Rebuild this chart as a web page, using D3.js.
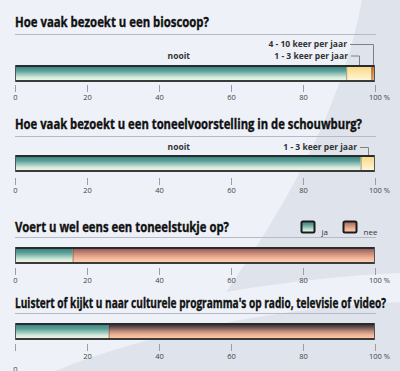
<!DOCTYPE html>
<html>
<head>
<meta charset="utf-8">
<script src="https://cdn.jsdelivr.net/npm/d3@7"></script>
<style>
    body { margin: 0; background: #eef1f8; }
    svg { display: block; }
</style>
</head>
<body>
<div id="chart"></div>
<script>
// questions, in order of the panels
const titles = [
    "Hoe vaak bezoekt u een bioscoop?",
    "Hoe vaak bezoekt u een toneelvoorstelling in de schouwburg?",
    "Voert u wel eens een toneelstukje op?",
    "Luistert of kijkt u naar culturele programma's op radio, televisie of video?"
];
const tickValues = [0, 20, 40, 60, 80, 100];

const freqCategories = ["nooit", "1 - 3 keer per jaar", "4 - 10 keer per jaar"];
const bioscoopValues = [92, 7, 1];
const schouwburgValues = [96, 4];

const yesNoCategories = ["ja", "nee"];
const toneelstukValues = [16, 84];
const programmaValues = [26, 74];

const width = 400, height = 371;
const x = d3.scaleLinear().domain([0, 100]).range([15, 375]);

const svg = d3.select("#chart").append("svg")
    .attr("width", width)
    .attr("height", height);

const defs = svg.append("defs");
function gradient(id, stops) {
    const g = defs.append("linearGradient").attr("id", id)
        .attr("x1", 0).attr("y1", 0).attr("x2", 0).attr("y2", 1);
    stops.forEach(s => g.append("stop").attr("offset", s[0]).attr("stop-color", s[1]));
}
gradient("teal", [[0, "#3a8783"], [0.3, "#5d9f9a"], [0.55, "#98c7bb"], [0.8, "#d4eadb"], [1, "#eef6e8"]]);
gradient("yellow", [[0, "#f6d88c"], [0.5, "#fce8ad"], [1, "#fff6d8"]]);
gradient("orange", [[0, "#d4782e"], [1, "#f3b070"]]);
gradient("salmon", [[0, "#94605a"], [0.35, "#cb8c7a"], [0.7, "#f2b697"], [1, "#fbd1b5"]]);
gradient("salmonDark", [[0, "#3c3535"], [0.25, "#7a5f59"], [0.5, "#c08f7f"], [0.75, "#efb393"], [1, "#fac9a9"]]);

// background swooshes
svg.append("path")
    .attr("d", "M362,0 C342,110 282,212 226,292 C290,281 350,275 400,273 L400,0 Z")
    .attr("fill", "#dfe3eb");
svg.append("path")
    .attr("d", "M55,371 C150,332 280,308 400,302 L400,371 Z")
    .attr("fill", "#dfe3eb");

const panels = [
    {title: titles[0], titleY: 27, titleW: 194, ruleY: 34.5, barY: 65, tickY: 85,
     values: bioscoopValues, fills: ["url(#teal)", "url(#yellow)", "url(#orange)"],
     labels: [
         {text: freqCategories[0], seg: 0, x: x(45.5), y: 59, anchor: "middle"},
         {text: freqCategories[1], seg: 1, x: 348, y: 59, anchor: "end", lineY: 56},
         {text: freqCategories[2], seg: 2, x: 347, y: 47, anchor: "end", lineY: 44.5}
     ]},
    {title: titles[1], titleY: 129, titleW: 347, ruleY: 136.5, barY: 155, tickY: 178,
     values: schouwburgValues, fills: ["url(#teal)", "url(#yellow)"],
     labels: [
         {text: freqCategories[0], seg: 0, x: x(45.5), y: 150, anchor: "middle"},
         {text: freqCategories[1], seg: 1, x: 357, y: 150, anchor: "end", lineY: 147.5}
     ]},
    {title: titles[2], titleY: 232, titleW: 214, ruleY: 237.5, barY: 247, tickY: 268,
     values: toneelstukValues, fills: ["url(#teal)", "url(#salmon)"], legend: true, labels: []},
    {title: titles[3], titleY: 308, titleW: 371, ruleY: 313.5, barY: 323, tickY: 344,
     values: programmaValues, fills: ["url(#teal)", "url(#salmonDark)"], labels: [], zeroDrop: 12}
];

const barH = 17;
const narrow = "'Liberation Sans Narrow', 'Open Sans', sans-serif";

panels.forEach(p => {
    const g = svg.append("g");

    g.append("text")
        .attr("x", 15)
        .attr("y", p.titleY)
        .attr("font-family", narrow)
        .attr("font-weight", "bold")
        .attr("font-size", 13.5)
        .attr("fill", "#111")
        .attr("stroke", "#111")
        .attr("stroke-width", 0.35)
        .attr("textLength", p.titleW)
        .attr("lengthAdjust", "spacingAndGlyphs")
        .text(p.title);

    g.append("line")
        .attr("x1", 15).attr("x2", 376)
        .attr("y1", p.ruleY).attr("y2", p.ruleY)
        .attr("stroke", "#b6bac4");

    const ends = d3.cumsum(p.values);
    const segs = p.values.map((v, i) => ({start: ends[i] - v, end: ends[i], fill: p.fills[i]}));

    g.selectAll("rect.seg").data(segs).join("rect")
        .attr("class", "seg")
        .attr("x", d => x(d.start))
        .attr("width", d => x(d.end) - x(d.start))
        .attr("y", p.barY + 2)
        .attr("height", barH - 4)
        .attr("fill", d => d.fill);

    // separators between segments
    g.selectAll("line.sep").data(segs.slice(1)).join("line")
        .attr("class", "sep")
        .attr("x1", d => x(d.start) + 0.5).attr("x2", d => x(d.start) + 0.5)
        .attr("y1", p.barY + 2).attr("y2", p.barY + barH - 2)
        .attr("stroke", "rgba(60,50,40,0.45)");

    // dark frame of the bar
    g.append("rect").attr("x", x(0)).attr("y", p.barY)
        .attr("width", x(100) - x(0)).attr("height", 2).attr("fill", "#2b2b2b");
    g.append("rect").attr("x", x(0)).attr("y", p.barY + barH - 2)
        .attr("width", x(100) - x(0)).attr("height", 2).attr("fill", "#3a3a3a");
    g.append("rect").attr("x", x(0)).attr("y", p.barY)
        .attr("width", 1).attr("height", barH).attr("fill", "#555");
    g.append("rect").attr("x", x(100) - 1).attr("y", p.barY)
        .attr("width", 1).attr("height", barH).attr("fill", "#555");

    // segment labels with leader lines
    p.labels.forEach(l => {
        g.append("text")
            .attr("x", l.x).attr("y", l.y)
            .attr("text-anchor", l.anchor)
            .attr("font-family", narrow)
            .attr("font-weight", "bold")
            .attr("font-size", 8.5)
            .attr("fill", "#333")
            .text(l.text);
        if (l.lineY !== undefined) {
            const s = segs[l.seg];
            const mx = Math.round(x((s.start + s.end) / 2)) + 0.5;
            g.append("path")
                .attr("d", `M${l.x + 3},${l.lineY} H${mx} V${p.barY}`)
                .attr("fill", "none")
                .attr("stroke", "#808080");
        }
    });

    // legend
    if (p.legend) {
        yesNoCategories.forEach((c, i) => {
            const lx = 301.5 + i * 42;
            g.append("rect")
                .attr("x", lx).attr("y", 221.5)
                .attr("width", 13).attr("height", 11)
                .attr("rx", 1.5)
                .attr("fill", p.fills[i])
                .attr("stroke", "#1a1a1a")
                .attr("stroke-width", 2);
            g.append("text")
                .attr("x", lx + 20).attr("y", 235)
                .attr("font-family", narrow)
                .attr("font-size", 8)
                .attr("fill", "#333")
                .text(c);
        });
    }

    // percentage axis
    const axis = g.append("g")
        .attr("transform", `translate(0,${p.tickY})`)
        .call(d3.axisBottom(x)
            .tickValues(tickValues)
            .tickSize(7)
            .tickPadding(3)
            .tickFormat(d => d === 100 ? "100 %" : d));
    axis.select(".domain").remove();
    axis.selectAll(".tick line").attr("stroke", "#9a9ea6");
    axis.selectAll(".tick text")
        .attr("font-family", narrow)
        .attr("font-size", 7.5)
        .attr("fill", "#444")
        .attr("dx", d => d === 100 ? 4 : 0)
        .attr("dy", d => (d === 0 && p.zeroDrop) ? p.zeroDrop + 6 : "0.71em");
});
</script>
</body>
</html>
